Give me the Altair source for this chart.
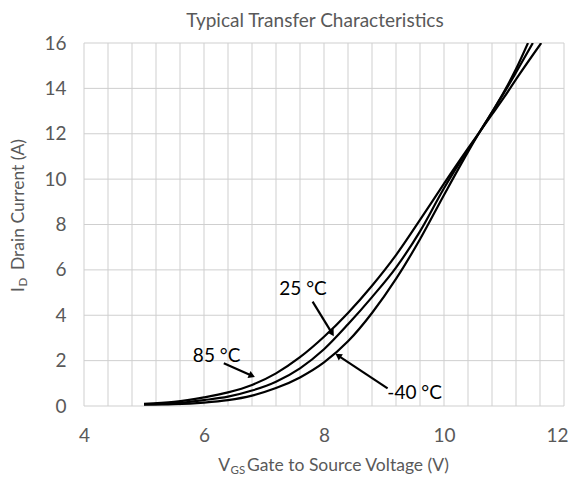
import math
import altair as alt
import pandas as pd

# ---------------- data ----------------
vgs_85 = [5.0, 5.5, 6.0, 6.4, 6.8, 7.2, 7.6, 8.0, 8.4, 8.8, 9.2, 9.6, 10.0, 10.4, 10.6, 10.8, 11.0, 11.2, 11.62]
id_85 = [0.10, 0.18, 0.38, 0.60, 0.93, 1.44, 2.15, 3.05, 4.1, 5.3, 6.65, 8.2, 9.8, 11.35, 12.1, 12.85, 13.6, 14.4, 16.0]

vgs_25 = [5.0, 5.5, 6.0, 6.4, 6.8, 7.2, 7.6, 8.0, 8.4, 8.8, 9.2, 9.6, 10.0, 10.4, 10.6, 10.8, 11.0, 11.2, 11.48]
id_25 = [0.08, 0.12, 0.26, 0.41, 0.68, 1.07, 1.66, 2.5, 3.6, 4.8, 6.1, 7.7, 9.6, 11.3, 12.1, 12.95, 13.8, 14.7, 16.0]

vgs_m40 = [5.0, 5.5, 6.0, 6.4, 6.8, 7.2, 7.6, 8.0, 8.4, 8.8, 9.2, 9.6, 10.0, 10.4, 10.6, 10.8, 11.0, 11.2, 11.4]
id_m40 = [0.06, 0.08, 0.15, 0.26, 0.46, 0.79, 1.26, 1.92, 2.85, 4.1, 5.6, 7.35, 9.3, 11.2, 12.1, 12.95, 13.85, 14.85, 16.0]

label_text = ["85 °C", "25 °C", "-40 °C"]
label_x = [6.21, 7.65, 9.51]
label_y = [2.22, 5.14, 0.59]

arrow_x1 = [6.33, 7.81, 9.06]
arrow_y1 = [1.88, 4.60, 0.78]
arrow_x2 = [6.86, 8.17, 8.18]
arrow_y2 = [1.26, 3.05, 2.32]

x_grid = [round(4 + 0.4 * i, 1) for i in range(21)]
x_ticks = [4, 6, 8, 10, 12]
y_ticks = [0, 2, 4, 6, 8, 10, 12, 14, 16]

title_text = "Typical Transfer Characteristics"

# ---------------- layout ----------------
W, H = 480, 363
XMIN, XMAX, YMIN, YMAX = 4, 12, 0, 16
FONT = "Lato"
GRAY = "#595959"
GRID = "#cfcfcf"

rows = []
for name, xs_, ys_ in [("85", vgs_85, id_85), ("25", vgs_25, id_25), ("-40", vgs_m40, id_m40)]:
    for i, (x, y) in enumerate(zip(xs_, ys_)):
        rows.append({"series": name, "vgs": x, "id": y, "order": i})
curves = pd.DataFrame(rows)

labels = pd.DataFrame({"text": label_text, "x": label_x, "y": label_y})

px_per_x = W / (XMAX - XMIN)
px_per_y = H / (YMAX - YMIN)
arows = []
for x1, y1, x2, y2 in zip(arrow_x1, arrow_y1, arrow_x2, arrow_y2):
    dx = (x2 - x1) * px_per_x
    dy = -(y2 - y1) * px_per_y
    ln = math.hypot(dx, dy)
    ang = math.degrees(math.atan2(dx, -dy)) % 360
    back = 4.0  # pull the head centre back so its tip sits at the end
    hx = x2 - (dx / ln) * back / px_per_x
    hy = y2 + (dy / ln) * back / px_per_y
    arows.append({"x1": x1, "y1": y1, "x2": hx, "y2": hy, "hx": hx, "hy": hy, "ang": ang})
arrows = pd.DataFrame(arows)

xs = alt.Scale(domain=[XMIN, XMAX], nice=False, zero=False)
ys = alt.Scale(domain=[YMIN, YMAX], nice=False)

x_axis = alt.Axis(values=x_ticks, title=None, ticks=False, domain=False, grid=False,
                  labelFont=FONT, labelFontSize=19, labelColor=GRAY, labelPadding=20,
                  labelFlush=False, labelOverlap=False, format="d",
                  labelOffset={"condition": {"test": "datum.value == 12", "value": -7}, "value": 0})
y_axis = alt.Axis(values=y_ticks, title=None, ticks=False, domain=False, grid=False,
                  labelFont=FONT, labelFontSize=19, labelColor=GRAY, labelPadding=18,
                  labelFlush=False, labelOverlap=False, format="d")

vgrid = alt.Chart(pd.DataFrame({"g": x_grid})).mark_rule(color=GRID, strokeWidth=1).encode(
    x=alt.X("g:Q", scale=xs, axis=x_axis))
hgrid = alt.Chart(pd.DataFrame({"g": y_ticks})).mark_rule(color=GRID, strokeWidth=1).encode(
    y=alt.Y("g:Q", scale=ys, axis=y_axis))

base = alt.Chart(curves).mark_line(color="black", strokeWidth=2.2, interpolate="monotone", clip=True).encode(
    x=alt.X("vgs:Q", scale=xs),
    y=alt.Y("id:Q", scale=ys),
    detail="series:N",
    order="order:Q",
)

txt = alt.Chart(labels).mark_text(font=FONT, fontSize=19, color="black", align="center", baseline="middle").encode(
    x=alt.X("x:Q", scale=xs), y=alt.Y("y:Q", scale=ys), text="text:N")

shafts = alt.Chart(arrows).mark_rule(color="black", strokeWidth=2.2).encode(
    x=alt.X("x1:Q", scale=xs), y=alt.Y("y1:Q", scale=ys), x2="x2:Q", y2="y2:Q")

heads = alt.Chart(arrows).mark_point(shape="triangle-up", filled=True, color="black", size=55, opacity=1).encode(
    x=alt.X("hx:Q", scale=xs), y=alt.Y("hy:Q", scale=ys), angle=alt.Angle("ang:Q", scale=None))


def lone_text(text, x, y, size, align="left", angle=0, color=GRAY):
    return alt.Chart(pd.DataFrame({"t": [text]})).mark_text(
        font=FONT, fontSize=size, color=color, align=align, baseline="alphabetic", angle=angle
    ).encode(x=alt.value(x), y=alt.value(y), text="t:N")


# chart title
tt = lone_text(title_text, 231, -16, 19, align="center")
# x axis title:  V_GS Gate to Source Voltage (V)
xt1 = lone_text("V", 146, 427.5, 17.5, align="right")
xt2 = lone_text("GS", 146.5, 430.5, 11.5)
xt3 = lone_text("Gate to Source Voltage (V)", 163, 427.5, 17.5)
# y axis title:  I_D Drain Current (A)
yt1 = lone_text("I", -60.5, 249, 17.5, angle=270)
yt2 = lone_text("D", -57, 243.5, 11.5, angle=270)
yt3 = lone_text("Drain Current (A)", -60.5, 227, 17.5, angle=270)

chart = alt.layer(vgrid, hgrid, base, shafts, heads, txt, tt, xt1, xt2, xt3, yt1, yt2, yt3).properties(
    width=W, height=H,
    autosize=alt.AutoSizeParams(type="none"),
    padding={"left": 76, "top": 35, "right": 5, "bottom": 69},
).configure_view(stroke=None)

chart.save("out.html", embed_options={"renderer": "svg", "actions": False})
